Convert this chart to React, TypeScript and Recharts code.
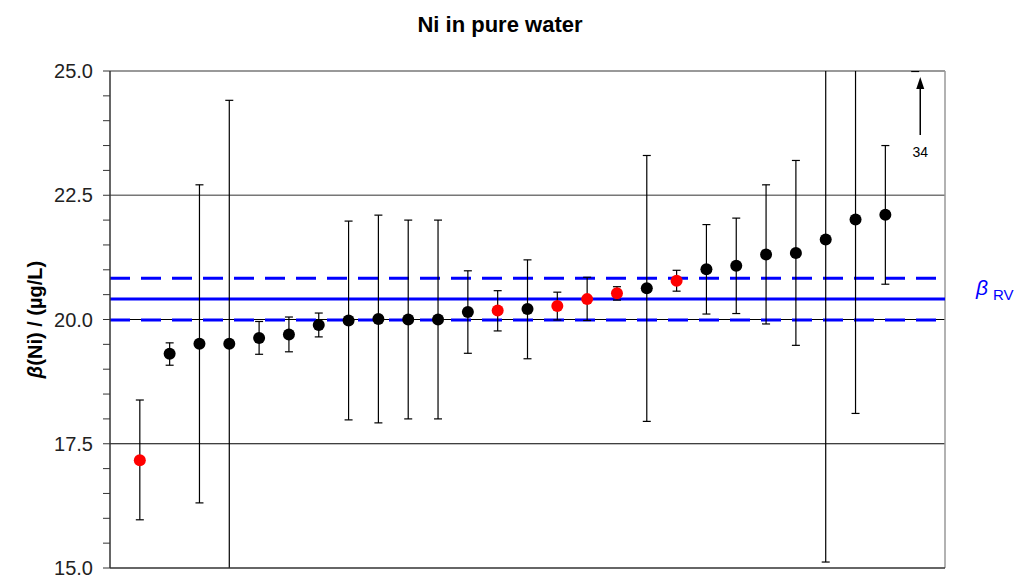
import React from 'react';
import { ScatterChart, Scatter, XAxis, YAxis, ReferenceLine } from 'recharts';

// lab results, ordered by value (x = position on the chart)
const positions = [1, 2, 3, 4, 5, 6, 7, 8, 9, 10, 11, 12, 13, 14, 15, 16, 17, 18, 19, 20, 21, 22, 23, 24, 25, 26, 27];
const results = [17.17, 19.31, 19.51, 19.51, 19.63, 19.7, 19.89, 19.98, 20.01, 20.0, 20.0, 20.15, 20.18, 20.21, 20.27, 20.41, 20.53, 20.63, 20.78, 21.01, 21.08, 21.31, 21.34, 21.61, 22.01, 22.11, 28.0];
const lowerLimits = [15.97, 19.08, 16.31, 14.61, 19.3, 19.35, 19.65, 17.98, 17.92, 18.0, 18.0, 19.32, 19.77, 19.21, 19.99, 19.98, 20.39, 17.95, 20.57, 20.11, 20.12, 19.91, 19.48, 15.12, 18.11, 20.71, 24.99];
const upperLimits = [18.38, 19.53, 22.71, 24.41, 19.96, 20.05, 20.13, 21.98, 22.1, 22.0, 22.0, 20.98, 20.58, 21.2, 20.55, 20.85, 20.66, 23.3, 20.99, 21.91, 22.04, 22.71, 23.2, 28.1, 25.91, 23.5, 31.0];
const markerColors = ['red', 'black', 'black', 'black', 'black', 'black', 'black', 'black', 'black', 'black', 'black', 'black', 'red', 'black', 'red', 'red', 'red', 'black', 'red', 'black', 'black', 'black', 'black', 'black', 'black', 'black', 'black'];

// reference value and its uncertainty band
const referenceValue = 20.41;
const referenceLower = 19.99;
const referenceUpper = 20.83;

const majorTicks = [15, 17.5, 20, 22.5, 25];
const yTicks = [15, 15.5, 16, 16.5, 17, 17.5, 18, 18.5, 19, 19.5, 20, 20.5, 21, 21.5, 22, 22.5, 23, 23.5, 24, 24.5, 25];

// off-scale result marker
const offScaleLabel = '34';
const arrowX = 27.17;
const arrowFrom = 23.71;
const arrowTo = 24.88;

const FONT = 'Arial, "Liberation Sans", sans-serif';

const data = positions.map((x, i) => ({ x, y: results[i], color: markerColors[i] }));

const Dot = (p: any) => <circle cx={p.cx} cy={p.cy} r={6} fill={p.payload.color} />;

// error bar: vertical line with a short cap at each end, clipped to the plot
const Whisker = (p: any) => (
  <g clipPath={p.clipPath}>
    <line x1={p.x1} y1={p.y1} x2={p.x2} y2={p.y2} stroke="#000" strokeWidth={1.2} />
    <line x1={p.x1 - 4} y1={p.y1} x2={p.x1 + 4} y2={p.y1} stroke="#000" strokeWidth={1.2} />
    <line x1={p.x2 - 4} y1={p.y2} x2={p.x2 + 4} y2={p.y2} stroke="#000" strokeWidth={1.2} />
  </g>
);

const YLabel = (props: any) => {
  const vb = props.viewBox;
  const cx = vb.x + 15;
  const cy = vb.y + vb.height / 2;
  return (
    <text
      x={cx}
      y={cy}
      transform={`rotate(-90 ${cx} ${cy})`}
      textAnchor="middle"
      dominantBaseline="central"
      fontFamily={FONT}
      fontWeight="bold"
      fontSize={20}
      fill="#000"
    >
      <tspan fontStyle="italic">β</tspan>(Ni) / (µg/L)
    </text>
  );
};

const RvLabel = (props: any) => {
  const vb = props.viewBox;
  const x = vb.x + vb.width;
  return (
    <text fontFamily={FONT} fill="#0000ff">
      <tspan x={x + 31} y={vb.y - 4} fontSize={21} fontStyle="italic">β</tspan>
      <tspan x={x + 48} y={vb.y + 1} fontSize={15}>RV</tspan>
    </text>
  );
};

const Arrow = (p: any) => {
  const x = p.x1;
  const yBottom = Math.max(p.y1, p.y2);
  const yTop = Math.min(p.y1, p.y2);
  return (
    <g>
      <line x1={x} y1={yBottom} x2={x} y2={yTop + 10} stroke="#000" strokeWidth={1.5} />
      <polygon points={`${x},${yTop} ${x - 4},${yTop + 12} ${x + 4},${yTop + 12}`} fill="#000" />
      <text x={x} y={yBottom + 22} textAnchor="middle" fontFamily={FONT} fontSize={14} fill="#000">
        {offScaleLabel}
      </text>
    </g>
  );
};

export default function App() {
  return (
    <div style={{ position: 'absolute', left: 0, top: 0, width: 1018, height: 576, background: '#fff' }}>
      <div
        style={{
          position: 'absolute',
          top: 14,
          left: 0,
          width: 1000,
          textAlign: 'center',
          fontFamily: FONT,
          fontWeight: 'bold',
          fontSize: 22,
          lineHeight: '22px',
        }}
      >
        Ni in pure water
      </div>
      <ScatterChart width={1018} height={576} margin={{ top: 71, right: 73, bottom: 7, left: 20 }}>
        <XAxis
          type="number"
          dataKey="x"
          domain={[0, 28]}
          tick={false}
          tickLine={false}
          height={1}
          axisLine={{ stroke: '#333', strokeWidth: 1.5 }}
        />
        <YAxis
          type="number"
          dataKey="y"
          domain={[15, 25]}
          allowDataOverflow
          ticks={yTicks}
          interval={0}
          width={90}
          tickSize={7}
          tickMargin={10}
          tickFormatter={(v: number) => (majorTicks.includes(v) ? v.toFixed(1) : '')}
          tick={{ fill: '#222', fontSize: 20, fontFamily: FONT }}
          tickLine={{ stroke: '#333' }}
          axisLine={{ stroke: '#333', strokeWidth: 1.5 }}
          label={{ content: YLabel }}
        />
        {majorTicks.slice(1).map((t) => (
          <ReferenceLine key={t} y={t} stroke={t > 21 ? '#777' : '#000'} strokeWidth={t > 21 ? 1.5 : 1} />
        ))}
        <ReferenceLine x={28} stroke="#999" strokeWidth={1.5} />
        <ReferenceLine y={referenceUpper} stroke="#0000ff" strokeWidth={3} strokeDasharray="20 11" />
        <ReferenceLine y={referenceLower} stroke="#0000ff" strokeWidth={3} strokeDasharray="20 11" />
        <ReferenceLine y={referenceValue} stroke="#0000ff" strokeWidth={3} label={{ content: RvLabel }} />
        {positions.map((x, i) => (
          <ReferenceLine
            key={`eb${x}`}
            segment={[
              { x, y: lowerLimits[i] },
              { x, y: upperLimits[i] },
            ]}
            ifOverflow="hidden"
            shape={Whisker}
          />
        ))}
        <ReferenceLine
          segment={[
            { x: arrowX, y: arrowFrom },
            { x: arrowX, y: arrowTo },
          ]}
          shape={Arrow}
        />
        <Scatter data={data} shape={Dot} isAnimationActive={false} />
      </ScatterChart>
    </div>
  );
}
